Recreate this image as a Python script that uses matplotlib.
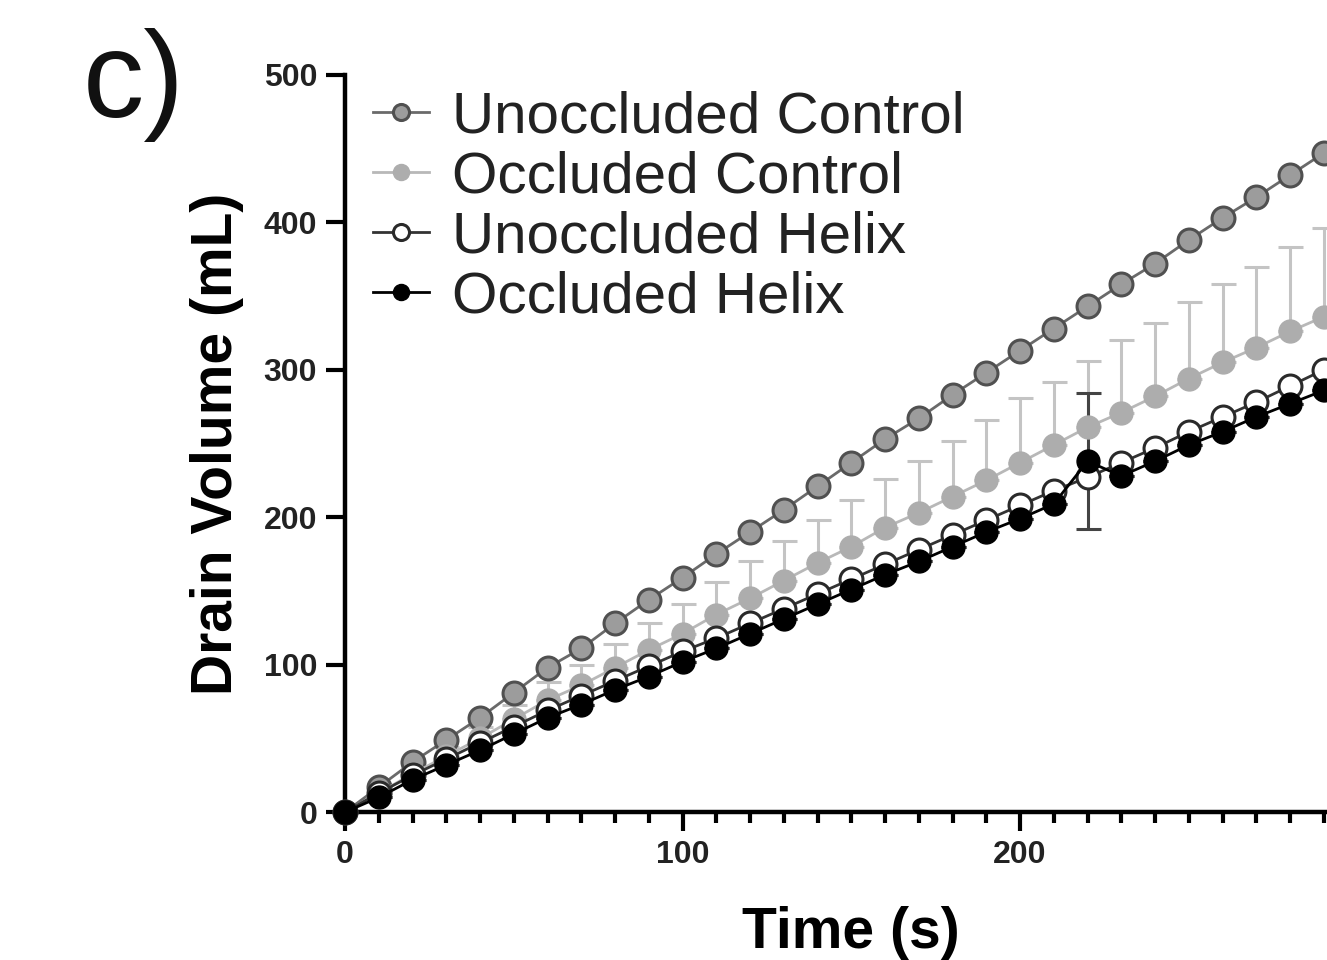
import numpy as np
import matplotlib
matplotlib.use('Agg')
import matplotlib.pyplot as plt
from matplotlib.ticker import MultipleLocator, FixedLocator

plt.rcParams['font.family'] = ['Liberation Sans', 'DejaVu Sans']

time = [0, 10, 20, 30, 40, 50, 60, 70, 80, 90, 100, 110, 120, 130, 140,
        150, 160, 170, 180, 190, 200, 210, 220, 230, 240, 250, 260, 270, 280, 290]

unocc_control = [0, 17, 34, 49, 64, 81, 98, 111, 128, 144, 159, 175, 190, 205, 221,
                 237, 253, 267, 283, 298, 313, 328, 343, 358, 372, 388, 403, 417, 432, 447]

occ_control = [0, 13, 26, 38, 50, 63, 76, 86, 98, 110, 121, 134, 145, 157, 169,
               180, 193, 203, 214, 225, 237, 249, 261, 271, 282, 294, 305, 315, 326, 336]
occ_control_err = [0, 2, 4, 6, 8, 10, 12, 14, 16, 18, 20, 22, 25, 27, 29,
                   32, 33, 35, 38, 41, 44, 43, 45, 49, 50, 52, 53, 55, 57, 60]

unocc_helix = [0, 13, 25, 36, 47, 58, 69, 79, 89, 99, 109, 118, 128, 138, 148,
               158, 168, 178, 188, 198, 208, 218, 227, 237, 247, 258, 268, 278, 289, 300]

occ_helix = [0, 10, 22, 32, 42, 53, 64, 73, 83, 92, 102, 111, 121, 131, 141,
             151, 161, 170, 180, 190, 199, 209, 238, 228, 238, 249, 258, 268, 277, 286]
occ_helix_err = [0, 0, 0, 0, 0, 0, 0, 0, 0, 0, 0, 0, 0, 0, 0,
                 0, 0, 0, 0, 0, 0, 0, 46, 0, 0, 0, 0, 0, 0, 0]

x_ticks = [0, 100, 200, 300]
x_ticklabels = ['0', '100', '200', '']

fig = plt.figure(figsize=(13.27, 9.6), dpi=100)
ax = fig.add_axes([0.26, 0.154, 0.763, 0.768])

ms = 16.5
# occluded control error bars (upward only)
ax.errorbar(time, occ_control, yerr=[np.zeros(len(occ_control_err)), occ_control_err],
            fmt='none', ecolor='#c4c4c4', elinewidth=2.2, capsize=9, capthick=2.2,
            zorder=2, clip_on=False)
ax.errorbar(time, occ_helix, yerr=occ_helix_err, fmt='none', ecolor='#444444',
            elinewidth=2.2, capsize=9, capthick=2.2, zorder=2, clip_on=False)

ax.plot(time, unocc_control, '-o', color='#6a6a6a', lw=2, ms=ms,
        mfc='#9c9c9c', mec='#505050', mew=2.2, label='Unoccluded Control',
        zorder=3, clip_on=False)
ax.plot(time, occ_control, '-o', color='#b8b8b8', lw=2, ms=ms,
        mfc='#adadad', mec='#adadad', mew=1, label='Occluded Control',
        zorder=3, clip_on=False)
ax.plot(time, unocc_helix, '-o', color='#333333', lw=2, ms=ms,
        mfc='white', mec='#2a2a2a', mew=2.2, label='Unoccluded Helix',
        zorder=4, clip_on=False)
ax.plot(time, occ_helix, '-o', color='black', lw=2, ms=ms,
        mfc='black', mec='black', mew=1, label='Occluded Helix',
        zorder=5, clip_on=False)

ax.set_xlim(0, 300)
ax.set_ylim(0, 500)
ax.xaxis.set_major_locator(FixedLocator(x_ticks))
ax.set_xticklabels(x_ticklabels)
ax.xaxis.set_minor_locator(MultipleLocator(10))
ax.yaxis.set_major_locator(MultipleLocator(100))

for s in ['top', 'right']:
    ax.spines[s].set_visible(False)
for s in ['left', 'bottom']:
    ax.spines[s].set_linewidth(3.2)

ax.tick_params(axis='both', which='major', length=14, width=3, labelsize=23, pad=6)
ax.tick_params(axis='x', which='minor', length=8, width=3)
for lab in ax.get_xticklabels() + ax.get_yticklabels():
    lab.set_fontweight('bold')
    lab.set_color('#222222')

ax.set_xlabel('Time (s)', fontsize=41, fontweight='bold', labelpad=26)
ax.set_ylabel('Drain Volume (mL)', fontsize=41, fontweight='bold', labelpad=14)

leg = ax.legend(loc='upper left', bbox_to_anchor=(0.005, 1.01), frameon=False,
                fontsize=42, handlelength=0.95, handletextpad=0.4,
                labelspacing=0.1, markerscale=0.7, borderaxespad=0)
for t in leg.get_texts():
    t.set_color('#222222')

fig.text(0.062, 1 - 117 / 960, 'c)', fontsize=88, va='baseline', color='#111111')

plt.savefig('out.png', dpi=100)
